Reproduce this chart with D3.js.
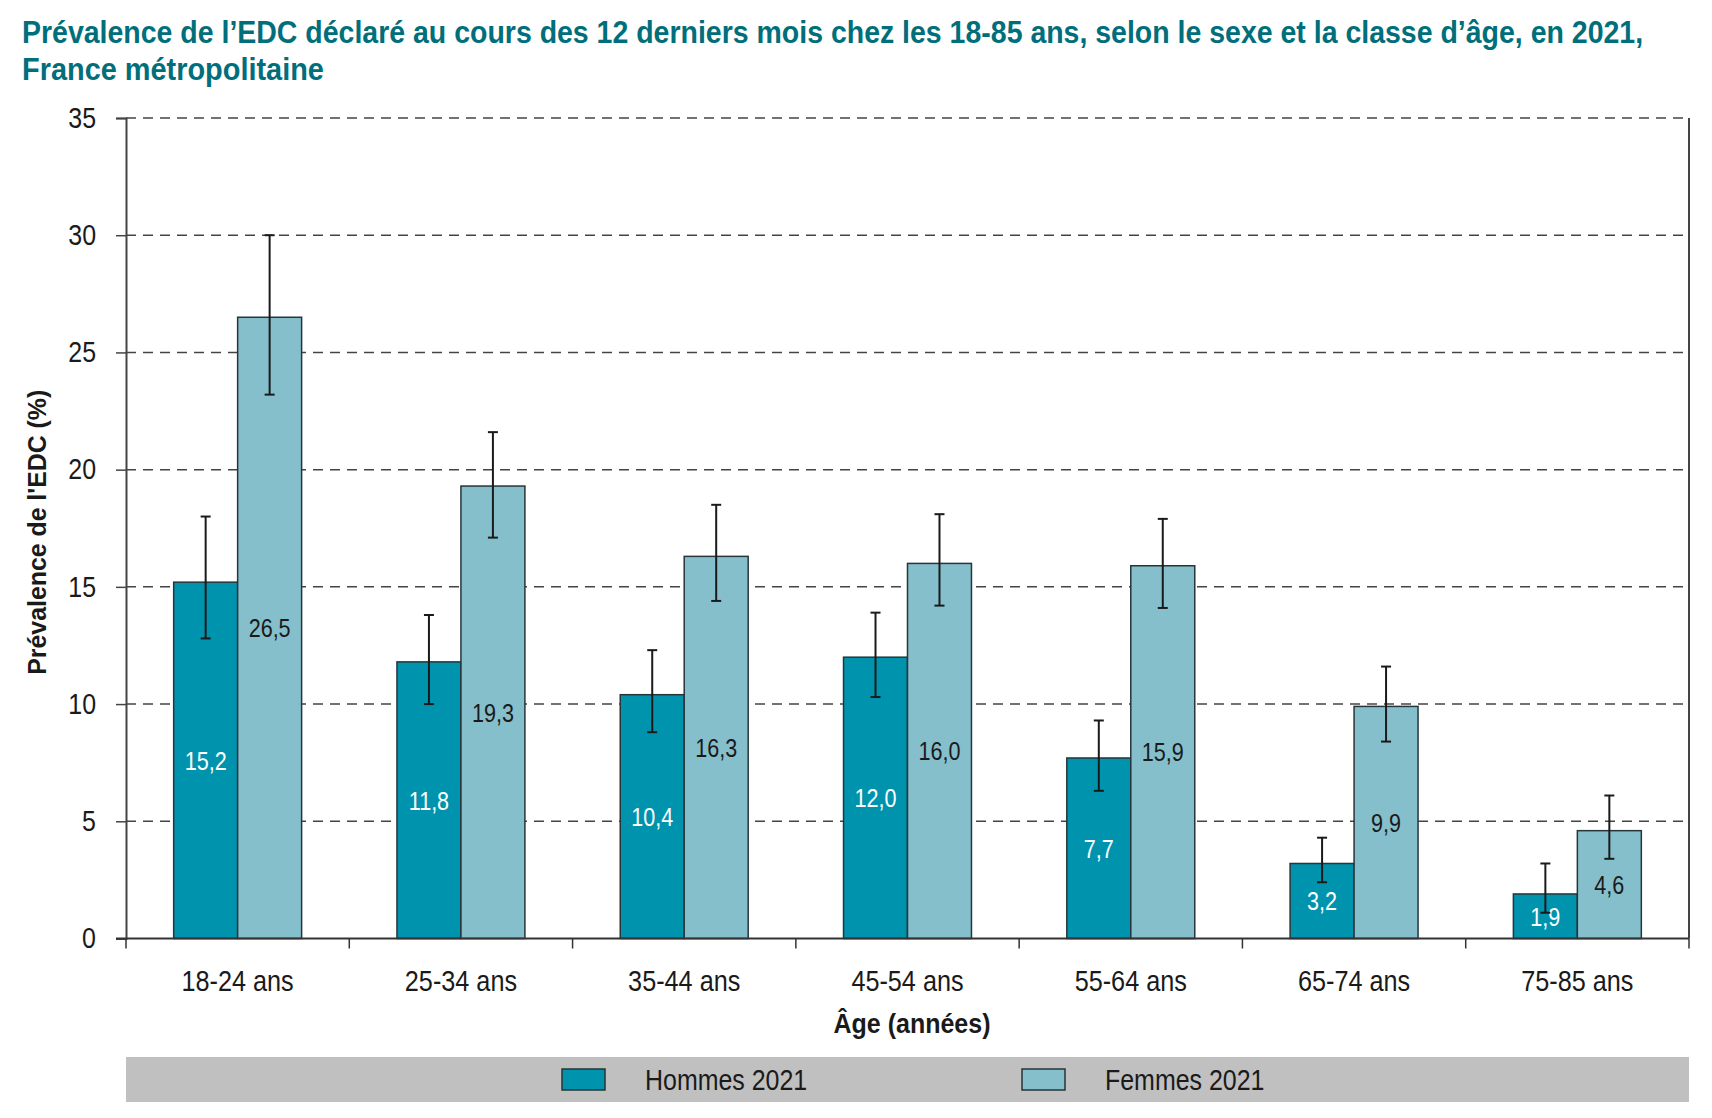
<!DOCTYPE html>
<html>
<head>
<meta charset="utf-8">
<script src="https://cdn.jsdelivr.net/npm/d3@7"></script>
<style>
  body { margin: 0; background: #fff; }
  svg text { font-family: "Liberation Sans", Arial, Helvetica, sans-serif; }
</style>
</head>
<body>
<div id="chart"></div>
<script>
const categories = ["18-24 ans", "25-34 ans", "35-44 ans", "45-54 ans", "55-64 ans", "65-74 ans", "75-85 ans"];
const series = ["Hommes 2021", "Femmes 2021"];
const hommes = [15.2, 11.8, 10.4, 12.0, 7.7, 3.2, 1.9];
const femmes = [26.5, 19.3, 16.3, 16.0, 15.9, 9.9, 4.6];
// intervalles de confiance
const hommesLow = [12.8, 10.0, 8.8, 10.3, 6.3, 2.4, 1.1];
const hommesHigh = [18.0, 13.8, 12.3, 13.9, 9.3, 4.3, 3.2];
const femmesLow = [23.2, 17.1, 14.4, 14.2, 14.1, 8.4, 3.4];
const femmesHigh = [30.0, 21.6, 18.5, 18.1, 17.9, 11.6, 6.1];
const yTicks = [0, 5, 10, 15, 20, 25, 30, 35];

const width = 1712;
const height = 1118;
const plotLeft = 126, plotRight = 1689, plotTop = 118, plotBottom = 938.5;
const colors = { "Hommes 2021": "#0093ae", "Femmes 2021": "#86bfcc" };
const labelColors = { "Hommes 2021": "#ffffff", "Femmes 2021": "#1a1a1a" };

const svg = d3.select("#chart")
    .append("svg")
    .attr("width", width)
    .attr("height", height)
    .attr("viewBox", [0, 0, width, height]);

// police étroite : on resserre l'Arial horizontalement
function condense(sel, k) {
    sel.each(function () {
        const len = this.getComputedTextLength();
        d3.select(this).attr("textLength", len * k).attr("lengthAdjust", "spacingAndGlyphs");
    });
}

const x0 = d3.scaleBand().domain(categories).range([plotLeft, plotRight]).padding(0);
const barW = x0.bandwidth() * 0.2865;
const x1 = d3.scaleBand().domain(series)
    .range([(x0.bandwidth() - 2 * barW) / 2, (x0.bandwidth() + 2 * barW) / 2]);
const y = d3.scaleLinear().domain([0, 35]).range([plotBottom, plotTop]);

// titre (mis à l'échelle horizontalement pour tenir dans la largeur)
const titleLines = [
    { text: "Prévalence de l’EDC déclaré au cours des 12 derniers mois chez les 18-85 ans, selon le sexe et la classe d’âge, en 2021,", y: 43, w: 1622 },
    { text: "France métropolitaine", y: 80, w: 302 }
];
titleLines.forEach(l => {
    const t = svg.append("text")
        .attr("fill", "#006f7b")
        .attr("font-size", 32).attr("font-weight", "bold")
        .text(l.text);
    const k = l.w / t.node().getComputedTextLength();
    t.attr("transform", `translate(22,${l.y}) scale(${k},1)`);
});

// grille
svg.append("g")
    .selectAll("line")
    .data(yTicks.filter(d => d > 0))
    .join("line")
    .attr("x1", plotLeft).attr("x2", plotRight - 4)
    .attr("y1", d => y(d)).attr("y2", d => y(d))
    .attr("stroke", "#444")
    .attr("stroke-width", 1.5)
    .attr("stroke-dasharray", "10,7");

// axe y
const yAxis = svg.append("g")
    .attr("transform", `translate(${plotLeft},0)`)
    .call(d3.axisLeft(y).tickValues(yTicks).tickSize(10).tickPadding(20));
yAxis.attr("font-family", null);
yAxis.select(".domain").attr("stroke", "#444").attr("stroke-width", 2);
yAxis.selectAll(".tick line").attr("stroke", "#444").attr("stroke-width", 1.5);
yAxis.selectAll("text")
    .attr("font-size", 29)
    .attr("fill", "#1a1a1a")
    .call(condense, 0.86);

// bord droit
svg.append("line")
    .attr("x1", plotRight).attr("x2", plotRight)
    .attr("y1", plotTop).attr("y2", plotBottom)
    .attr("stroke", "#444").attr("stroke-width", 2);

// barres
const groups = svg.append("g")
    .selectAll("g")
    .data(categories.map((c, i) => ({
        cat: c,
        vals: [
            { s: series[0], v: hommes[i], lo: hommesLow[i], hi: hommesHigh[i] },
            { s: series[1], v: femmes[i], lo: femmesLow[i], hi: femmesHigh[i] }
        ]
    })))
    .join("g")
    .attr("transform", d => `translate(${x0(d.cat)},0)`);

groups.selectAll("rect")
    .data(d => d.vals)
    .join("rect")
    .attr("x", d => x1(d.s))
    .attr("width", x1.bandwidth())
    .attr("y", d => y(d.v))
    .attr("height", d => y(0) - y(d.v))
    .attr("fill", d => colors[d.s])
    .attr("stroke", "#263539")
    .attr("stroke-width", 1.5);

groups.selectAll(".val")
    .data(d => d.vals)
    .join("text")
    .attr("class", "val")
    .attr("x", d => x1(d.s) + x1.bandwidth() / 2)
    .attr("y", d => y(d.v / 2))
    .attr("dy", "0.36em")
    .attr("text-anchor", "middle")
    .attr("font-size", 26)
    .attr("fill", d => labelColors[d.s])
    .text(d => d3.format(".1f")(d.v).replace(".", ","))
    .call(condense, 0.83);

// barres d'erreur
const err = groups.selectAll(".err")
    .data(d => d.vals)
    .join("g")
    .attr("class", "err")
    .attr("stroke", "#1a1a1a")
    .attr("stroke-width", 2);
err.append("line")
    .attr("x1", d => x1(d.s) + x1.bandwidth() / 2)
    .attr("x2", d => x1(d.s) + x1.bandwidth() / 2)
    .attr("y1", d => y(d.lo)).attr("y2", d => y(d.hi));
err.append("line")
    .attr("x1", d => x1(d.s) + x1.bandwidth() / 2 - 5)
    .attr("x2", d => x1(d.s) + x1.bandwidth() / 2 + 5)
    .attr("y1", d => y(d.hi)).attr("y2", d => y(d.hi));
err.append("line")
    .attr("x1", d => x1(d.s) + x1.bandwidth() / 2 - 5)
    .attr("x2", d => x1(d.s) + x1.bandwidth() / 2 + 5)
    .attr("y1", d => y(d.lo)).attr("y2", d => y(d.lo));

// axe x
const xAxis = svg.append("g")
    .attr("transform", `translate(0,${plotBottom})`);
xAxis.append("line")
    .attr("x1", plotLeft - 10).attr("x2", plotRight)
    .attr("stroke", "#333").attr("stroke-width", 2);
xAxis.selectAll(".tk")
    .data(categories.concat(["end"]))
    .join("line")
    .attr("class", "tk")
    .attr("x1", (d, i) => plotLeft + i * x0.bandwidth())
    .attr("x2", (d, i) => plotLeft + i * x0.bandwidth())
    .attr("y1", 0).attr("y2", 10)
    .attr("stroke", "#333").attr("stroke-width", 1.5);
xAxis.selectAll(".lbl")
    .data(categories)
    .join("text")
    .attr("class", "lbl")
    .attr("x", d => x0(d) + x0.bandwidth() / 2)
    .attr("y", 52)
    .attr("text-anchor", "middle")
    .attr("font-size", 29)
    .attr("fill", "#1a1a1a")
    .text(d => d)
    .call(condense, 0.87);

// titres des axes
svg.append("text")
    .attr("x", 912)
    .attr("y", 1033)
    .attr("text-anchor", "middle")
    .attr("font-size", 27).attr("font-weight", "bold")
    .attr("fill", "#1a1a1a")
    .attr("textLength", 157).attr("lengthAdjust", "spacingAndGlyphs")
    .text("Âge (années)");
svg.append("text")
    .attr("transform", `translate(46,${(plotTop + plotBottom) / 2 + 4}) rotate(-90)`)
    .attr("text-anchor", "middle")
    .attr("font-size", 26).attr("font-weight", "bold")
    .attr("fill", "#1a1a1a")
    .attr("textLength", 285).attr("lengthAdjust", "spacingAndGlyphs")
    .text("Prévalence de l'EDC (%)");

// légende
const legend = svg.append("g");
legend.append("rect")
    .attr("x", plotLeft).attr("y", 1057)
    .attr("width", plotRight - plotLeft).attr("height", 45)
    .attr("fill", "#c0c0c0");
const legendX = [562, 1022];
const items = legend.selectAll(".item")
    .data(series)
    .join("g")
    .attr("class", "item")
    .attr("transform", (d, i) => `translate(${legendX[i]},1069)`);
items.append("rect")
    .attr("width", 43).attr("height", 21)
    .attr("fill", d => colors[d])
    .attr("stroke", "#263539").attr("stroke-width", 1.5);
items.append("text")
    .attr("x", 83).attr("y", 11)
    .attr("dy", "0.36em")
    .attr("font-size", 29)
    .attr("fill", "#1a1a1a")
    .text(d => d)
    .call(condense, 0.86);
</script>
</body>
</html>
